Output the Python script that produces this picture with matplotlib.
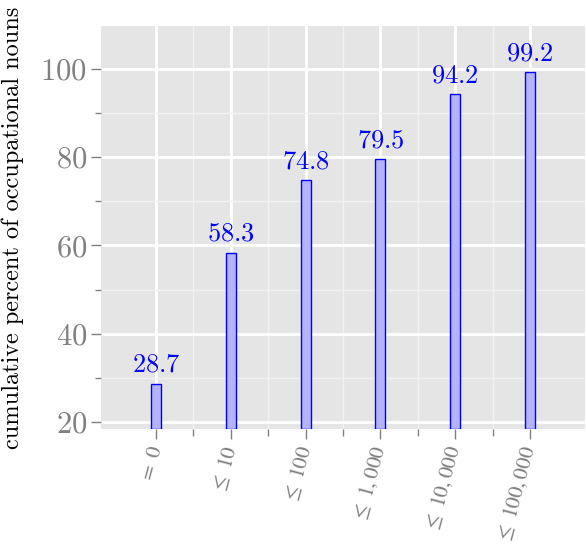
import numpy as np
import matplotlib
matplotlib.use("Agg")
import matplotlib.pyplot as plt
from matplotlib.ticker import FixedLocator, FuncFormatter

# data
bins = ["= 0", "≤ 10", "≤ 100", "≤ 1,000", "≤ 10,000", "≤ 100,000"]
tick_tex = [r"$=\ \mathit{0}$", r"$\leq\ \mathit{10}$", r"$\leq\ \mathit{100}$",
            r"$\leq\ \mathit{1,000}$", r"$\leq\ \mathit{10,000}$", r"$\leq\ \mathit{100,000}$"]
cum_pct = [28.7, 58.3, 74.8, 79.5, 94.2, 99.2]

plt.rcParams["mathtext.fontset"] = "cm"
plt.rcParams["font.family"] = ["cmr10", "DejaVu Serif"]
plt.rcParams["axes.unicode_minus"] = False

GREY_TXT = "#808080"
ylo, yhi = 18.4, 109.7

fig = plt.figure(figsize=(5.86, 5.5), dpi=100)
ax = fig.add_axes([101 / 586, 1 - 429 / 550, 484 / 586, 403 / 550])
ax.set_facecolor("#E5E5E5")

x = np.arange(1, len(bins) + 1)
heights = [v - ylo for v in cum_pct]
ax.bar(x, heights, bottom=ylo, width=0.135, facecolor="#B3B3FF",
       edgecolor="#0000FF", linewidth=1.0, zorder=3)

for xi, v in zip(x, cum_pct):
    ax.annotate(f"${v:.1f}$", (xi, v), xytext=(0, 5), textcoords="offset points",
                ha="center", va="bottom", color="#0000FF", fontsize=19, zorder=4)

ax.set_xlim(0.265, 6.735)
ax.set_ylim(ylo, yhi)

ax.xaxis.set_major_locator(FixedLocator(x))
ax.xaxis.set_minor_locator(FixedLocator(x[:-1] + 0.5))
ax.set_xticklabels(tick_tex, rotation=75, ha="right", va="center",
                   rotation_mode="anchor", color=GREY_TXT, fontsize=15.5,
                   math_fontfamily="stix")

ax.yaxis.set_major_locator(FixedLocator([20, 40, 60, 80, 100]))
ax.yaxis.set_minor_locator(FixedLocator([30, 50, 70, 90]))
ax.yaxis.set_major_formatter(FuncFormatter(lambda v, p: f"${v:.0f}$"))
ax.tick_params(axis="y", which="major", labelsize=22, labelcolor=GREY_TXT,
               color=GREY_TXT, length=7, width=1, pad=3)
ax.tick_params(axis="y", which="minor", color=GREY_TXT, length=4, width=1)
ax.tick_params(axis="x", which="major", color=GREY_TXT, length=7, width=1, pad=5)
ax.tick_params(axis="x", which="minor", color=GREY_TXT, length=5, width=1)

ax.grid(True, which="major", color="white", linewidth=2, zorder=1)
ax.grid(True, which="minor", color="#F2F2F2", linewidth=1, zorder=1)
ax.set_axisbelow(True)
for s in ax.spines.values():
    s.set_visible(False)

ax.set_ylabel("cumulative percent of occupational nouns", fontsize=17.5,
              color="black")
ax.yaxis.set_label_coords(-99 / 484, 0.5)
ax.yaxis.label.set_va("top")

fig.savefig("out.png", dpi=100)
